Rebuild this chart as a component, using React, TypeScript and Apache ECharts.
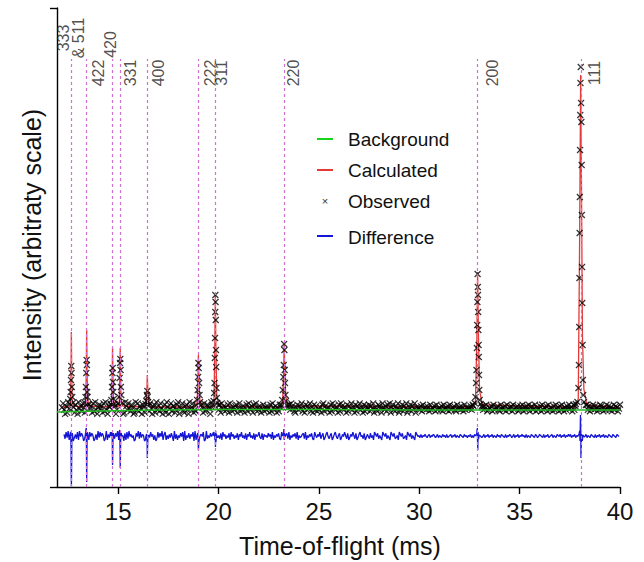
import React, { useEffect, useRef } from "react";
import * as echarts from "echarts";

// ---------- data ----------
const xTicks = [15, 20, 25, 30, 35, 40];

const reflections = ["333\n& 511", "422", "420", "331", "400", "222", "311", "220", "200", "111"];
const reflectionTof = [12.67, 13.43, 14.72, 15.1, 16.45, 19.0, 19.84, 23.27, 32.91, 38.05];

const background = [[11.95, 75], [14, 76], [17, 77], [20, 77.5], [25, 77.5], [30, 77], [35, 77], [40, 77]];

const calculated = [
  [12.2, 80],
  [12.55, 80], [12.62, 83], [12.65, 115], [12.665, 155], [12.68, 118], [12.7, 88], [12.76, 81],
  [13.3, 80], [13.38, 83], [13.41, 118], [13.428, 157], [13.445, 120], [13.47, 89], [13.54, 81],
  [14.6, 80], [14.67, 83], [14.7, 110], [14.718, 139], [14.735, 112], [14.76, 88], [14.83, 81],
  [14.98, 80], [15.05, 83], [15.08, 110], [15.1, 139], [15.117, 112], [15.14, 88], [15.22, 81],
  [16.32, 80], [16.4, 83], [16.43, 98], [16.45, 112], [16.47, 99], [16.5, 86], [16.58, 80],
  [18.84, 80], [18.93, 84], [18.97, 108], [18.995, 132], [19.02, 110], [19.06, 88], [19.15, 80],
  [19.68, 80], [19.77, 85], [19.81, 135], [19.838, 192], [19.865, 140], [19.91, 92], [20.0, 81],
  [23.08, 80], [23.19, 85], [23.24, 112], [23.268, 143], [23.3, 115], [23.35, 90], [23.46, 81],
  [32.65, 80], [32.8, 86], [32.87, 150], [32.905, 215], [32.94, 160], [33.0, 97], [33.14, 82],
  [37.75, 80], [37.92, 88], [37.99, 250], [38.04, 412], [38.08, 300], [38.13, 150], [38.2, 98], [38.35, 82],
  [40.0, 79],
];

// observed points on the Bragg peaks
const obsPeak1 = [[12.58, 83], [12.61, 88], [12.63, 95], [12.645, 107], [12.66, 121], [12.675, 114], [12.69, 100], [12.71, 90], [12.74, 84]];
const obsPeak2 = [[13.34, 84], [13.37, 90], [13.39, 100], [13.41, 114], [13.425, 127], [13.44, 122], [13.455, 95], [13.47, 90], [13.51, 83]];
const obsPeak3 = [[14.63, 83], [14.66, 87], [14.69, 100], [14.71, 114], [14.725, 119], [14.74, 105], [14.755, 95], [14.78, 88], [14.82, 83]];
const obsPeak4 = [[15.0, 83], [15.04, 90], [15.07, 109], [15.09, 124], [15.105, 128], [15.12, 117], [15.135, 100], [15.15, 92], [15.2, 84]];
const obsPeak5 = [[16.36, 83], [16.4, 86], [16.43, 92], [16.45, 96], [16.465, 90], [16.49, 85], [16.54, 82]];
const obsPeak6 = [[18.88, 82], [18.93, 87], [18.96, 97], [18.98, 110], [18.995, 124], [19.01, 119], [19.03, 104], [19.05, 92], [19.08, 85], [19.13, 82]];
const obsPeak7 = [[19.7, 82], [19.75, 86], [19.78, 94], [19.8, 104], [19.815, 129], [19.825, 149], [19.835, 175], [19.84, 192], [19.85, 185], [19.86, 167], [19.87, 137], [19.88, 120], [19.895, 99], [19.91, 89], [19.94, 84], [19.99, 82]];
const obsPeak8 = [[23.12, 82], [23.17, 87], [23.2, 97], [23.23, 110], [23.25, 122], [23.265, 143], [23.28, 137], [23.295, 117], [23.31, 104], [23.33, 92], [23.36, 86], [23.42, 82]];
const obsPeak9 = [[32.7, 81], [32.76, 84], [32.8, 90], [32.83, 104], [32.85, 117], [32.87, 139], [32.885, 162], [32.895, 185], [32.905, 213], [32.915, 200], [32.925, 192], [32.935, 175], [32.945, 157], [32.955, 142], [32.965, 130], [32.975, 112], [32.99, 97], [33.01, 87], [33.05, 83], [33.12, 81]];
const obsPeak10 = [[37.8, 83], [37.88, 85], [37.93, 99], [37.955, 122], [37.97, 160], [37.98, 209], [37.99, 254], [38.0, 290], [38.01, 337], [38.02, 372], [38.03, 404], [38.045, 420], [38.06, 384], [38.075, 365], [38.09, 322], [38.1, 272], [38.11, 220], [38.12, 184], [38.135, 142], [38.15, 107], [38.17, 92], [38.21, 85], [38.3, 82]];

// observed counts between the peaks, one digit per channel (0..9 -> low..high)
const obsNoiseRange = [12.2, 40.0];
const obsNoise = [
  "5830619472851730946285193074618293057461829306574",
  "9160382754019638427501938264075193628405719362840",
  "3719504826613790548216730945813276049518237640951",
  "4625371846253718425367148253614728536174825361472",
  "5364172853614275836412573864215736482517364825173",
  "6243517826435172864351728643517264835172648351726",
  "3572648153276418536274815732648135726481357264815",
  "4536274536427354627345362745362734563274536427354",
  "5463725436274536472354627345632745362743562734562",
  "3647253647256347253462735462735426374526374253647",
  "4527364527436254736245736425376425374635247365247",
].join("");

// difference curve on the peaks
const diffPeak1 = [[12.6, 52], [12.63, 55], [12.65, 40], [12.66, 10], [12.668, 1], [12.677, 20], [12.69, 47], [12.71, 54], [12.74, 50]];
const diffPeak2 = [[13.36, 52], [13.39, 57], [13.41, 59], [13.42, 30], [13.428, 5], [13.438, 25], [13.45, 48], [13.47, 55], [13.5, 51]];
const diffPeak3 = [[14.65, 51], [14.68, 55], [14.7, 52], [14.71, 38], [14.718, 22], [14.728, 35], [14.74, 49], [14.76, 54], [14.79, 50]];
const diffPeak4 = [[15.03, 51], [15.06, 56], [15.08, 57], [15.09, 40], [15.1, 19], [15.11, 32], [15.125, 50], [15.15, 54], [15.18, 51]];
const diffPeak5 = [[16.38, 51], [16.42, 53], [16.44, 45], [16.45, 29], [16.46, 38], [16.48, 50], [16.52, 52]];
const diffPeak6 = [[18.92, 51], [18.96, 54], [18.98, 48], [18.995, 37], [19.01, 42], [19.03, 47], [19.06, 50], [19.1, 52]];
const diffPeak7 = [[19.76, 51], [19.8, 53], [19.82, 47], [19.835, 55], [19.845, 40], [19.855, 56], [19.87, 45], [19.89, 53], [19.93, 50]];
const diffPeak8 = [[23.18, 51], [23.23, 53], [23.255, 58], [23.27, 47], [23.285, 54], [23.31, 50], [23.35, 52]];
const diffPeak9 = [[32.8, 51], [32.86, 53], [32.89, 59], [32.905, 44], [32.915, 37], [32.93, 55], [32.95, 48], [32.99, 52], [33.05, 51]];
const diffPeak10 = [[37.9, 51], [37.96, 53], [37.99, 56], [38.01, 46], [38.03, 72], [38.045, 55], [38.055, 29], [38.07, 42], [38.09, 53], [38.12, 46], [38.16, 52], [38.22, 50]];

const diffNoiseRange = [12.3, 39.95];
const diffNoise = [
  "6283917450362819475026391847502619384750291638475",
  "2749163850718294635017492836501729384615028374916",
  "8152637409261537480915372648091527364801925374680",
  "4635271846253718462537164835271648352716458327164",
  "5374628153647218536472815364728153467281536472185",
  "3648257136842571368425713648527136485271368452713",
  "6427351864725318647253186472351864723518647253186",
  "4536354643563546534635436453634563546354365436453",
  "5463536454365346354635463543645365436354653463546",
  "3546453635436543653465436354634563543654635463546",
  "4635463545346534635436543635463546354365436543654",
].join("");

// ---------- styling ----------
const FONT = '"Liberation Sans", Arial, Helvetica, sans-serif';
const OBS_BASE = 79;
const OBS_STEP = 1.3;
const DIFF_BASE = 51;
const DIFF_STEP = 1.1;
const REFLECTION_LINE_TOP = 428;
const labelShiftMs = [0, 0.57, -0.1, 0.5, 0.54, 0.58, 0.32, 0.45, 0.72, 0.66];
const labelLevel = [449, 414, 442.5, 414, 414, 414, 414, 414, 414, 414];

function decode(str: string, range: number[], base: number, step: number) {
  const n = str.length;
  return Array.from(str).map((ch, i) => [
    range[0] + ((range[1] - range[0]) * i) / (n - 1),
    base + (Number(ch) - 4.5) * step,
  ]);
}

function merge(noise: number[][], peaks: number[][][]) {
  const outside = noise.filter(
    (p) => !peaks.some((pk) => p[0] >= pk[0][0] && p[0] <= pk[pk.length - 1][0])
  );
  return outside.concat(...peaks).sort((a, b) => a[0] - b[0]);
}

const obsPeaks = [obsPeak1, obsPeak2, obsPeak3, obsPeak4, obsPeak5, obsPeak6, obsPeak7, obsPeak8, obsPeak9, obsPeak10];
const diffPeaks = [diffPeak1, diffPeak2, diffPeak3, diffPeak4, diffPeak5, diffPeak6, diffPeak7, diffPeak8, diffPeak9, diffPeak10];

export default function App() {
  const ref = useRef<HTMLDivElement>(null);

  useEffect(() => {
    if (!ref.current) return;
    const chart = echarts.init(ref.current, undefined, { renderer: "svg" });

    const observed = merge(decode(obsNoise, obsNoiseRange, OBS_BASE, OBS_STEP), obsPeaks);
    const difference = merge(decode(diffNoise, diffNoiseRange, DIFF_BASE, DIFF_STEP), diffPeaks);

    const hklData = reflections.map((r, i) => [reflectionTof[i] + labelShiftMs[i], labelLevel[i], r]);

    chart.setOption({
      animation: false,
      backgroundColor: "#ffffff",
      grid: { left: 57, right: 24, top: 8, bottom: 75 },
      xAxis: {
        type: "value",
        min: 11.95,
        max: 40,
        axisLine: { lineStyle: { color: "#000", width: 1.4 } },
        axisTick: { customValues: xTicks, length: 7, lineStyle: { color: "#000", width: 1.4 } },
        axisLabel: {
          customValues: xTicks,
          fontSize: 24,
          color: "#111",
          fontFamily: FONT,
          margin: 12,
        },
        splitLine: { show: false },
      },
      yAxis: {
        type: "value",
        min: 0,
        max: 479,
        interval: 479,
        axisLine: { show: true, lineStyle: { color: "#000", width: 1.4 } },
        axisTick: { show: true, length: 7, lineStyle: { color: "#000", width: 1.4 } },
        axisLabel: { show: false },
        splitLine: { show: false },
      },
      series: [
        {
          name: "hkl",
          type: "scatter",
          symbolSize: 0,
          z: 1,
          data: hklData,
          label: {
            show: true,
            position: "inside",
            rotate: 90,
            align: "center",
            verticalAlign: "middle",
            fontSize: 16,
            lineHeight: 15,
            color: "#222",
            fontFamily: FONT,
            formatter: (p: any) => p.data[2],
          },
          markLine: {
            silent: true,
            symbol: ["none", "none"],
            label: { show: false },
            lineStyle: { color: "#d070d0", type: [3, 3], width: 1.2 },
            data: reflectionTof.map((t) => [{ coord: [t, 0] }, { coord: [t, REFLECTION_LINE_TOP] }]),
          },
        },
        {
          name: "Calculated",
          type: "line",
          data: calculated,
          showSymbol: false,
          z: 2,
          lineStyle: { color: "#e53935", width: 1.3 },
        },
        {
          name: "Observed",
          type: "scatter",
          data: observed,
          symbol: "path://M0,0L10,10M10,0L0,10",
          symbolSize: 6,
          z: 3,
          itemStyle: { color: "rgba(0,0,0,0)", borderColor: "#000", borderWidth: 1.2 },
        },
        {
          name: "Background",
          type: "line",
          data: background,
          showSymbol: false,
          z: 4,
          lineStyle: { color: "#22bb22", width: 1.3 },
        },
        {
          name: "Difference",
          type: "line",
          data: difference,
          showSymbol: false,
          z: 2,
          lineStyle: { color: "#1515d5", width: 1.3 },
        },
      ],
      graphic: [
        { type: "line", shape: { x1: 317, y1: 139, x2: 333, y2: 139 }, style: { stroke: "#19d419", lineWidth: 2 } },
        { type: "text", x: 348, y: 139, style: { text: "Background", font: `19px ${FONT}`, fill: "#111", verticalAlign: "middle" } },
        { type: "line", shape: { x1: 317, y1: 170, x2: 333, y2: 170 }, style: { stroke: "#e53935", lineWidth: 2 } },
        { type: "text", x: 348, y: 170, style: { text: "Calculated", font: `19px ${FONT}`, fill: "#111", verticalAlign: "middle" } },
        { type: "text", x: 325, y: 201, style: { text: "×", font: `11px ${FONT}`, fill: "#333", align: "center", verticalAlign: "middle" } },
        { type: "text", x: 348, y: 201, style: { text: "Observed", font: `19px ${FONT}`, fill: "#111", verticalAlign: "middle" } },
        { type: "line", shape: { x1: 317, y1: 236, x2: 333, y2: 236 }, style: { stroke: "#1515d5", lineWidth: 2 } },
        { type: "text", x: 348, y: 237, style: { text: "Difference", font: `19px ${FONT}`, fill: "#111", verticalAlign: "middle" } },
        {
          type: "text",
          x: 32,
          y: 245,
          rotation: Math.PI / 2,
          style: { text: "Intensity (arbitraty scale)", font: `25px ${FONT}`, fill: "#111", align: "center", verticalAlign: "middle" },
        },
        {
          type: "text",
          x: 340,
          y: 546,
          style: { text: "Time-of-flight (ms)", font: `25px ${FONT}`, fill: "#111", align: "center", verticalAlign: "middle" },
        },
      ],
    });

    return () => chart.dispose();
  }, []);

  return (
    <div
      ref={ref}
      style={{ position: "fixed", left: 0, top: 0, width: 644, height: 562, background: "#fff" }}
    />
  );
}
